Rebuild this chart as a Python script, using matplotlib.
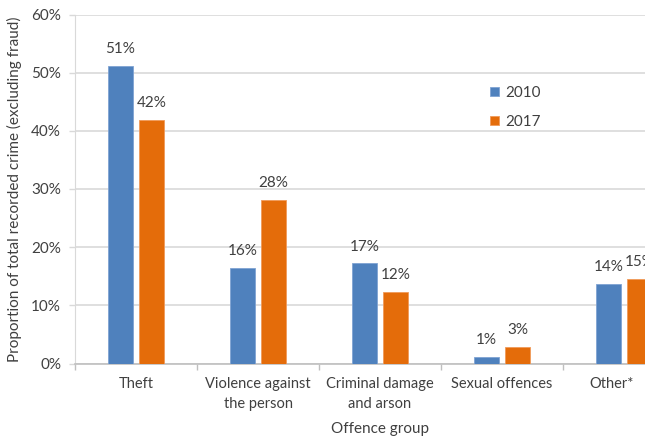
import matplotlib
matplotlib.use("Agg")
import matplotlib.pyplot as plt
import matplotlib.transforms as mtransforms
import numpy as np
from matplotlib.ticker import FuncFormatter

plt.rcParams['font.family'] = ['Lato', 'DejaVu Sans']

categories = ["Theft", "Violence against\nthe person", "Criminal damage\nand arson", "Sexual offences", "Other*"]
series_names = ["2010", "2017"]
values_2010 = [51.2, 16.4, 17.2, 1.1, 13.7]
values_2017 = [41.9, 28.1, 12.3, 2.9, 14.6]
labels_2010 = ["51%", "16%", "17%", "1%", "14%"]
labels_2017 = ["42%", "28%", "12%", "3%", "15%"]

blue = "#4F81BD"
orange = "#E46C0A"
text_c = "#404040"
grid_c = "#D9D9D9"
fs = 11

fig = plt.figure(figsize=(6.45, 4.37), dpi=100)
ax = fig.add_axes([75/645, 1-363.5/437, 610/645, 349/437])

x = np.arange(len(categories))
w = 0.213
off = 0.127
b1 = ax.bar(x - off, values_2010, w, color=blue, edgecolor="#7FA3D3", linewidth=0.6, label=series_names[0], zorder=3)
b2 = ax.bar(x + off, values_2017, w, color=orange, edgecolor="#F09A5A", linewidth=0.6, label=series_names[1], zorder=3)
ax.bar_label(b1, labels=labels_2010, padding=7, fontsize=fs, color=text_c)
ax.bar_label(b2, labels=labels_2017, padding=7, fontsize=fs, color=text_c)

ax.set_xlim(-0.5, len(categories) - 0.5)
ax.set_ylim(0, 60)
ax.set_yticks(np.arange(0, 61, 10))
ax.yaxis.set_major_formatter(FuncFormatter(lambda v, p: f"{int(v)}%"))
ax.grid(axis='y', color=grid_c, linewidth=1.2, zorder=0)
ax.set_axisbelow(True)

ax.set_xticks(x)
ax.set_xticklabels(categories, fontsize=10.5, color=text_c, linespacing=1.5)
ax.tick_params(axis='x', length=0, pad=10)
ax.set_xticks(np.arange(-0.5, len(categories) + 0.5, 1), minor=True)
ax.tick_params(axis='x', which='minor', length=4, color="#BFBFBF", width=1)
ax.tick_params(axis='y', length=4, color=grid_c, width=1, labelsize=fs, labelcolor=text_c, pad=6)

# Last category label is pulled inside the visible area, as in the reference
last = ax.get_xticklabels()[-1]
last.set_transform(last.get_transform() + mtransforms.ScaledTranslation(-12/100, 0, fig.dpi_scale_trans))

for s in ['top', 'right']:
    ax.spines[s].set_visible(False)
ax.spines['left'].set_color(grid_c)
ax.spines['bottom'].set_color("#BFBFBF")
ax.spines['bottom'].set_linewidth(1.2)

ax.set_ylabel("Proportion of total recorded crime (excluding fraud)", fontsize=fs, color=text_c, labelpad=7)
ax.set_xlabel("Offence group", fontsize=fs, color=text_c, labelpad=8)

leg = fig.legend(loc='upper left', bbox_to_anchor=(476/645, 1-72/437), frameon=False,
                 fontsize=fs, handlelength=0.6, handleheight=0.6, handletextpad=0.4,
                 labelspacing=1.0, labelcolor=text_c)

fig.savefig("out.png", dpi=100)
